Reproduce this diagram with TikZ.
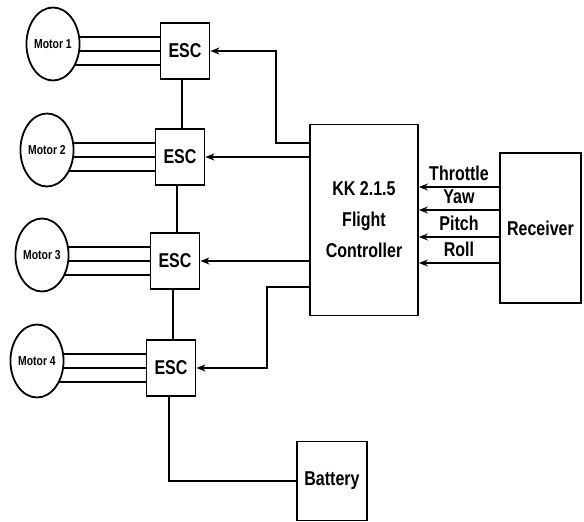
\documentclass[tikz,border=0pt]{standalone}
\usepackage{fontspec}
\newfontfamily\lbl[FakeStretch=0.8]{Liberation Sans}
\usetikzlibrary{arrows.meta,shapes.geometric,backgrounds,calc}
\begin{document}
\begin{tikzpicture}[x=1pt,y=-1pt,
  line width=1.8pt,
  box/.style={draw,rectangle,minimum width=49pt,minimum height=56pt,inner sep=0pt,
    font=\lbl\bfseries\fontsize{20}{24}\selectfont},
  bigbox/.style={draw,rectangle,inner sep=0pt,align=center,
    font=\lbl\bfseries\fontsize{20}{31}\selectfont},
  motor/.style={draw,ellipse,fill=white,minimum width=47pt,minimum height=73pt,inner sep=0pt,
    font=\lbl\bfseries\fontsize{13}{15}\selectfont},
  sig/.style={font=\lbl\bfseries\fontsize{20}{22}\selectfont,inner sep=0pt},
  wire/.style={line width=2.3pt},
  arr/.style={-{Stealth[length=9pt,width=7pt]}}]
\useasboundingbox (0,0) rectangle (584,522);

\node[motor] (m1) at (53,44) {Motor 1};
\node[motor] (m2) at (47,150) {Motor 2};
\node[motor] (m3) at (42,255) {Motor 3};
\node[motor] (m4) at (37,361) {Motor 4};

\node[box] (e1) at (185,51) {ESC};
\node[box] (e2) at (180,157) {ESC};
\node[box] (e3) at (175,261) {ESC};
\node[box] (e4) at (171,368) {ESC};

\node[bigbox,minimum width=108pt,minimum height=191pt] (fc) at (364,220) {KK 2.1.5\\Flight\\Controller};
\node[bigbox,minimum width=81pt,minimum height=150pt] (rx) at (540.5,228) {Receiver};
\node[bigbox,minimum width=70pt,minimum height=79pt] (bat) at (332,481) {Battery};

\begin{scope}[on background layer]
\foreach \m/\e in {m1/e1,m2/e2,m3/e3,m4/e4}{
  \foreach \d in {-14,0,14}{
    \draw[wire] (\m.center |- {$(\e.west)+(0,\d)$}) -- ($(\e.west)+(0,\d)$);
  }
}
\end{scope}

% ESC chain
\draw ($(e2.north)+(2,0)$) -- ($(e2.north |- e1.south)+(2,0)$);
\draw ($(e3.north)+(2,0)$) -- ($(e3.north |- e2.south)+(2,0)$);
\draw ($(e4.north)+(2,0)$) -- ($(e4.north |- e3.south)+(2,0)$);

% battery
\coordinate (bc) at ($(e4.south |- bat.west)+(-2,0)$);
\draw ($(e4.south)+(-2,0)$) -- (bc) -- (bat.west);

% flight controller to ESCs
\coordinate (f1) at (fc.west |- 0,143);
\coordinate (f4) at (fc.west |- 0,287);
\draw[arr] (f1) -- (276,143) -- (276,51) -- (e1.east);
\draw[arr] (fc.west |- e2.east) -- (e2.east);
\draw[arr] (fc.west |- e3.east) -- (e3.east);
\draw[arr] (f4) -- (267,287) -- (267,368) -- (e4.east);

% receiver signals
\foreach \y/\t in {187/Throttle,210/Yaw,237/Pitch,263/Roll}{
  \draw[arr] (rx.west |- 0,\y) -- (fc.east |- 0,\y);
  \node[sig,anchor=base] at (459,\y-7) {\t};
}
\end{tikzpicture}
\end{document}
